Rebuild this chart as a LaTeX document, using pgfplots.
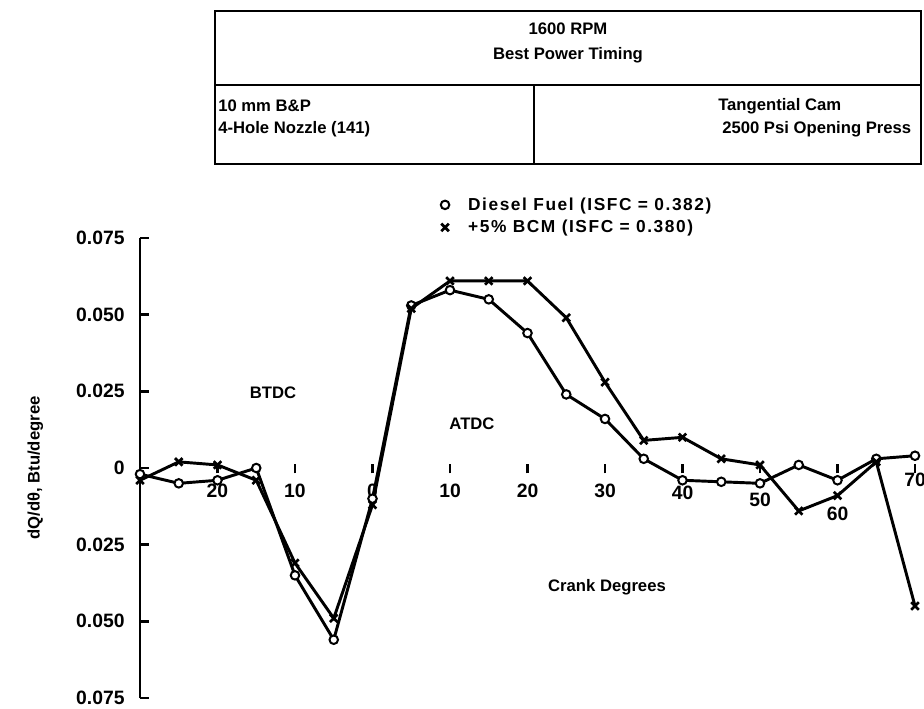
\documentclass[border=0pt]{standalone}
\usepackage{fontspec}
\setmainfont{Liberation Sans}
\usepackage{pgfplots}
\pgfplotsset{compat=1.18}

% px -> pt : 1 px = 0.75 pt, axis lower left corner sits at pixel (140,700)
\begin{document}
\begin{tikzpicture}
\begin{axis}[
    name=ax, at={(0,0)}, anchor=south west,
    scale only axis, width=581.25pt, height=345pt,
    xmin=-30, xmax=70, ymin=-0.075, ymax=0.075,
    clip=false,
    axis y line=left, axis x line*=middle,
    axis line style={-},
    x axis line style={draw=none},
    y axis line style={line width=2.2pt},
    hide obscured x ticks=false, hide obscured y ticks=false,
    scaled y ticks=false,
    tick align=inside, major tick length=7pt,
    xtick={-20,-10,0,10,20,30,40,50,60,70},
    xticklabels={20,10,0,10,20,30,\raisebox{-1.5pt}{40},\raisebox{-7pt}{50},\raisebox{-17pt}{60},\raisebox{8pt}{70}},
    ytick={-0.075,-0.05,-0.025,0,0.025,0.05,0.075},
    yticklabels={0.075,0.050,0.025,0,0.025,0.050,0.075},
    xtick style={line width=2pt, black, yshift=-4pt},
    ytick style={line width=2pt, black},
    ticklabel style={font=\fontsize{14.5}{16}\selectfont\bfseries},
    xticklabel style={anchor=base, yshift=-22pt},
    yticklabel style={xshift=-8pt},
    /pgf/number format/assume math mode=true,
    ylabel={dQ/dθ, Btu/degree},
    every axis y label/.style={at={(axis description cs:-0.135,0.5)}, rotate=90, anchor=center,
        font=\fontsize{12.5}{14}\selectfont\bfseries},
    legend style={at={(0.374,1.10)}, anchor=north west, draw=none, fill=none,
        font=\fontsize{13}{15}\selectfont\bfseries\addfontfeatures{LetterSpace=9},
        row sep=2pt, cells={anchor=west}},
    legend image code/.code={\path (0cm,0cm) (0.75cm,0cm);
        \draw[#1,only marks] plot coordinates {(0.25cm,0cm)};},
]
\addplot[black, line width=2.2pt, mark=*, mark size=3.2pt,
    mark options={fill=white, line width=1.5pt, solid}]
    coordinates {
    (-30,-0.002)(-25,-0.005)(-20,-0.004)(-15,0.000)(-10,-0.035)(-5,-0.056)(0,-0.010)
    (5,0.053)(10,0.058)(15,0.055)(20,0.044)(25,0.024)(30,0.016)(35,0.003)(40,-0.004)
    (45,-0.0045)(50,-0.005)(55,0.001)(60,-0.004)(65,0.003)(70,0.004)
    };
\addplot[black, line width=2.2pt, mark=x, mark size=4pt,
    mark options={line width=2pt, solid}]
    coordinates {
    (-30,-0.004)(-25,0.002)(-20,0.001)(-15,-0.004)(-10,-0.031)(-5,-0.049)(0,-0.012)
    (5,0.052)(10,0.061)(15,0.061)(20,0.061)(25,0.049)(30,0.028)(35,0.009)(40,0.010)
    (45,0.003)(50,0.001)(55,-0.014)(60,-0.009)(65,0.002)(70,-0.045)
    };
\legend{Diesel Fuel (ISFC = 0.382), +5\% BCM (ISFC = 0.380)}
\end{axis}

\begin{scope}[shift={(-105pt,525pt)}, x=0.75pt, y=-0.75pt,
    font=\fontsize{12.5}{15}\selectfont\bfseries]
  % header table
  \draw[line width=1.5pt] (215,13) rectangle (921,166);
  \draw[line width=1.5pt] (215,87) -- (921,87);
  \draw[line width=1.5pt] (534,87) -- (534,166);
  \node at (568,31) {1600 RPM};
  \node at (568,57) {Best Power Timing};
  \node[anchor=west, inner sep=0pt] at (218,108) {10 mm B\&P};
  \node[anchor=west, inner sep=0pt] at (218,131) {4-Hole Nozzle (141)};
  \node[anchor=west, inner sep=0pt] at (718,108) {Tangential Cam};
  \node[anchor=west, inner sep=0pt] at (722,131) {2500 Psi Opening Press};
  % plot annotations
  \node at (273,395) {BTDC};
  \node at (472,426) {ATDC};
  \node at (607,589) {Crank Degrees};
\end{scope}

\pgfresetboundingbox
\path[use as bounding box] (-105pt,-7.5pt) rectangle (588pt,523.5pt);
\end{tikzpicture}
\end{document}
